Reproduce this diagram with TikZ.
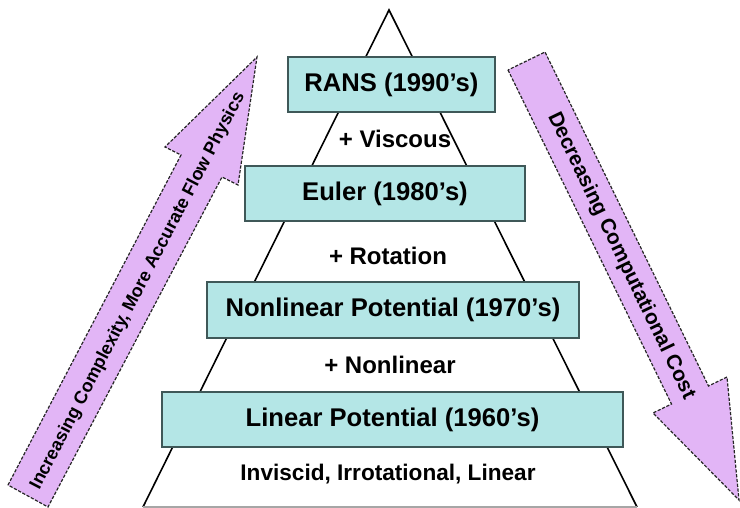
\documentclass[tikz,border=0pt]{standalone}
\usepackage{fontspec}
\setmainfont{Liberation Sans}
\usepackage{xcolor}
\usepackage{tikz}
\definecolor{erafill}{HTML}{B4E6E6}
\definecolor{eraline}{HTML}{3F5858}
\definecolor{trendfill}{HTML}{E2B5F6}
\definecolor{trendline}{HTML}{262626}

\begin{document}
\begin{tikzpicture}[
    x=0.5pt, y=-0.5pt,
    era/.style={
      rectangle, draw=eraline, line width=1pt, fill=erafill,
      font=\fontsize{12.8}{14}\selectfont\bfseries, inner sep=0pt,
      minimum height=27.5pt
    },
    gain/.style={font=\fontsize{12}{14}\selectfont\bfseries, inner sep=0pt},
    trend/.style={
      fill=trendfill, draw=trendline, line width=0.6pt,
      dash pattern=on 1.6pt off 0.8pt, line join=miter
    },
    trendtext/.style={inner sep=0pt, text=black},
  ]
  \useasboundingbox (0,0) rectangle (740,508);

  % pyramid
  \coordinate (apex) at (389,10);
  \coordinate (baseL) at (143,507);
  \coordinate (baseR) at (637,507);
  \draw[line width=0.8pt] (baseL) -- (apex) -- (baseR);
  \draw[black!35, line width=0.6pt] (baseL) -- (baseR);

  % levels
  \node[era, minimum width=103.5pt] (rans) at (391.5,84.5) {RANS (1990’s)};
  \node[era, minimum width=140pt] (euler) at (385,194) {Euler (1980’s)};
  \node[era, minimum width=186pt] (nlp) at (393,310) {Nonlinear Potential (1970’s)};
  \node[era, minimum width=230.5pt] (lp) at (392.5,419.5) {Linear Potential (1960’s)};

  \node[gain] (visc) at (395,139) {+ Viscous};
  \node[gain] (rot) at (388,256) {+ Rotation};
  \node[gain] (nonlin) at (390,365) {+ Nonlinear};
  \node[gain, font=\fontsize{11.3}{13}\selectfont\bfseries] (base) at (388,474)
    {Inviscid, Irrotational, Linear};

  % side arrows
  \draw[trend] (8,485) -- (181,155) -- (165,147) -- (257,57) -- (238,185)
    -- (222,177) -- (48,507) -- cycle;
  \draw[trend] (508,70) -- (671.5,404) -- (653,413) -- (739,500) -- (727,377)
    -- (708.5,386) -- (545,52) -- cycle;

  \node[trendtext, rotate=62.5, font=\fontsize{9}{10}\selectfont\bfseries] (up)
    at (138,291) {Increasing Complexity, More Accurate Flow Physics};
  \node[trendtext, rotate=-64.3, font=\fontsize{10.4}{12}\selectfont\bfseries] (down)
    at (621,256) {Decreasing Computational Cost};
\end{tikzpicture}
\end{document}
